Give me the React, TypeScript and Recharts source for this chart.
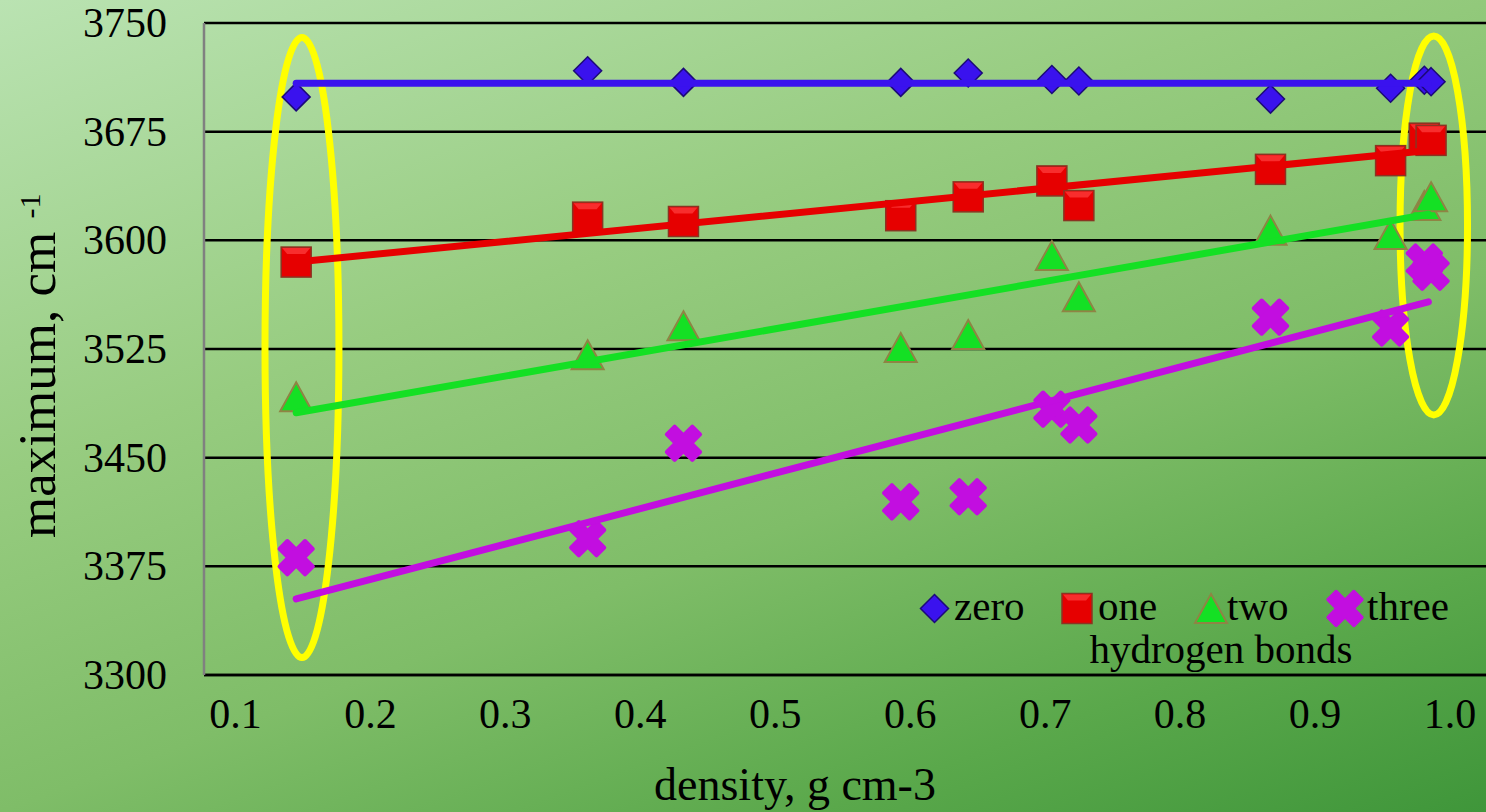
import React from "react";
import { ScatterChart, Scatter, XAxis, YAxis, CartesianGrid, ReferenceArea, Legend } from "recharts";

const density = [0.145, 0.361, 0.432, 0.593, 0.643, 0.705, 0.725, 0.867, 0.956, 0.981, 0.986];
const zeroBonds = [3699, 3717, 3709, 3709, 3715.5, 3711, 3710, 3697.5, 3705, 3710.5, 3709.5];
const oneBond = [3585, 3616, 3613, 3617, 3630, 3641, 3624, 3649, 3655, 3670.5, 3669];
const twoBonds = [3491, 3520, 3540, 3525, 3534, 3588.5, 3560, 3606, 3603, 3623, 3629];
const threeBonds = [3381, 3394, 3460, 3419.5, 3423, 3483.5, 3472.5, 3547, 3539.5, 3585, 3578];

// linear trend lines, end points
const trendX = [0.145, 0.984];
const zeroTrend = [3708.5, 3708.5];
const oneTrend = [3585, 3662];
const twoTrend = [3481, 3618];
const threeTrend = [3352.5, 3557.5];

const xTicks = [0.1, 0.2, 0.3, 0.4, 0.5, 0.6, 0.7, 0.8, 0.9, 1.0];
const yTicks = [3300, 3375, 3450, 3525, 3600, 3675, 3750];

// yellow ellipses around the lowest and highest density
const lowX = [0.1219, 0.1767];
const lowY = [3312, 3740];
const highX = [0.963, 1.013];
const highY = [3479.5, 3741];

const FONT = "'Liberation Serif', 'Times New Roman', serif";

const pts = (ys: number[]) => density.map((x, i) => ({ x, y: ys[i] }));
const line = (ys: number[]) => trendX.map((x, i) => ({ x, y: ys[i] }));

const BLUE = "#3a12ee";
const RED = "#e60000";
const GREEN = "#14e024";
const PURPLE = "#c20ee0";

function Diamond({ cx, cy }: any) {
  const r = 14;
  return (
    <polygon
      points={`${cx},${cy - r} ${cx + r},${cy} ${cx},${cy + r} ${cx - r},${cy}`}
      fill={BLUE}
      stroke="#1c0a78"
      strokeWidth={1.5}
    />
  );
}

function Square({ cx, cy }: any) {
  const h = 15;
  return (
    <g>
      <rect x={cx - h} y={cy - h} width={2 * h} height={2 * h} fill={RED} stroke="#8a3422" strokeWidth={1.5} />
      <polygon
        points={`${cx - h + 1},${cy - h + 1} ${cx + h - 1},${cy - h + 1} ${cx + h - 6},${cy - h + 7} ${cx - h + 6},${cy - h + 7}`}
        fill="#ff4040"
        opacity={0.7}
      />
    </g>
  );
}

function Triangle({ cx, cy }: any) {
  return (
    <polygon
      points={`${cx},${cy - 16} ${cx + 16},${cy + 13} ${cx - 16},${cy + 13}`}
      fill={GREEN}
      stroke="#8f8444"
      strokeWidth={2}
    />
  );
}

function Cross({ cx, cy }: any) {
  return (
    <g fill={PURPLE}>
      <rect x={cx - 20} y={cy - 7.5} width={40} height={15} rx={2} transform={`rotate(45, ${cx}, ${cy})`} />
      <rect x={cx - 20} y={cy - 7.5} width={40} height={15} rx={2} transform={`rotate(-45, ${cx}, ${cy})`} />
    </g>
  );
}

const NoDot = () => <g />;

function Ellipse(props: any) {
  const { x, y, width, height } = props;
  return (
    <ellipse
      cx={x + width / 2}
      cy={y + height / 2}
      rx={width / 2}
      ry={height / 2}
      fill="none"
      stroke="#ffff00"
      strokeWidth={7}
    />
  );
}

function XTick({ x, y, payload }: any) {
  return (
    <text x={x} y={y + 53} textAnchor="middle" fontSize={42} fontFamily={FONT} fill="#000">
      {Number(payload.value).toFixed(1)}
    </text>
  );
}

function YTick({ x, y, payload }: any) {
  return (
    <text x={x} y={y + 14} textAnchor="end" fontSize={42} fontFamily={FONT} fill="#000">
      {payload.value}
    </text>
  );
}

function LegendBox() {
  const t = { fontSize: 41, fontFamily: FONT, fill: "#000" };
  return (
    <svg width={560} height={100} style={{ overflow: "visible" }}>
      <Diamond cx={19.5} cy={28.5} />
      <text x={39} y={40} {...t}>zero</text>
      <Square cx={162} cy={28.5} />
      <text x={183} y={40} {...t}>one</text>
      <Triangle cx={296} cy={30} />
      <text x={312} y={40} {...t}>two</text>
      <Cross cx={430} cy={28.5} />
      <text x={452} y={40} {...t}>three</text>
      <text x={306} y={83} textAnchor="middle" {...t}>hydrogen bonds</text>
    </svg>
  );
}

export default function App() {
  return (
    <div
      style={{
        position: "absolute",
        left: 0,
        top: 0,
        width: 1486,
        height: 812,
        background: "linear-gradient(160deg, #bae3b2 0%, #97cc80 35%, #7fbd68 60%, #5aa84b 82%, #3f963a 100%)",
      }}
    >
      <ScatterChart width={1486} height={812} margin={{ top: 23, right: 0, bottom: 0, left: 0 }}>
        <CartesianGrid vertical={false} stroke="#000" strokeWidth={2.5} />
        <XAxis
          type="number"
          dataKey="x"
          domain={[0.0767, 1.0267]}
          ticks={xTicks}
          allowDataOverflow
          height={137}
          tickSize={0}
          tickMargin={0}
          tick={<XTick />}
          axisLine={{ stroke: "#000", strokeWidth: 2.5 }}
          label={{
            content: () => (
              <text x={795} y={800} textAnchor="middle" fontSize={46} fontFamily={FONT} fill="#000">
                density, g cm-3
              </text>
            ),
          }}
        />
        <YAxis
          type="number"
          dataKey="y"
          domain={[3300, 3750]}
          ticks={yTicks}
          allowDataOverflow
          width={204}
          tickSize={0}
          tickMargin={37}
          tick={<YTick />}
          axisLine={{ stroke: "#808080", strokeWidth: 2.5 }}
          label={{
            content: () => (
              <text
                x={55}
                y={538}
                transform="rotate(-90, 55, 538)"
                fontSize={53}
                fontFamily={FONT}
                fill="#000"
              >
                maximum, cm{" "}
                <tspan dy={-15} fontSize={30}>-1</tspan>
              </text>
            ),
          }}
        />
        <Legend
          layout="horizontal"
          verticalAlign="middle"
          align="center"
          wrapperStyle={{ left: 915, top: 580, width: 560, height: 100 }}
          content={() => <LegendBox />}
        />
        <Scatter name="zero" data={pts(zeroBonds)} shape={<Diamond />} isAnimationActive={false} />
        <Scatter name="one" data={pts(oneBond)} shape={<Square />} isAnimationActive={false} />
        <Scatter name="two" data={pts(twoBonds)} shape={<Triangle />} isAnimationActive={false} />
        <Scatter name="three" data={pts(threeBonds)} shape={<Cross />} isAnimationActive={false} />
        <Scatter data={line(zeroTrend)} line={{ stroke: BLUE, strokeWidth: 7, strokeLinecap: "round" }} shape={<NoDot />} legendType="none" isAnimationActive={false} />
        <Scatter data={line(oneTrend)} line={{ stroke: RED, strokeWidth: 7, strokeLinecap: "round" }} shape={<NoDot />} legendType="none" isAnimationActive={false} />
        <Scatter data={line(twoTrend)} line={{ stroke: GREEN, strokeWidth: 7, strokeLinecap: "round" }} shape={<NoDot />} legendType="none" isAnimationActive={false} />
        <Scatter data={line(threeTrend)} line={{ stroke: PURPLE, strokeWidth: 7, strokeLinecap: "round" }} shape={<NoDot />} legendType="none" isAnimationActive={false} />
        <ReferenceArea x1={lowX[0]} x2={lowX[1]} y1={lowY[0]} y2={lowY[1]} shape={<Ellipse />} />
        <ReferenceArea x1={highX[0]} x2={highX[1]} y1={highY[0]} y2={highY[1]} shape={<Ellipse />} />
      </ScatterChart>
    </div>
  );
}
